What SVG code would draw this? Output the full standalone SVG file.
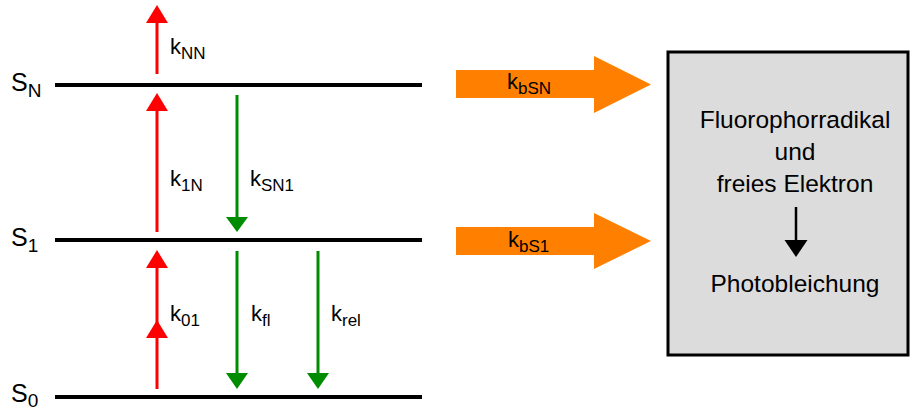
<svg xmlns="http://www.w3.org/2000/svg" width="912" height="410" viewBox="0 0 912 410">
<style>
text{font-family:"Liberation Sans",Arial,sans-serif;fill:#000}
.lvl{stroke:#000;stroke-width:4}
.s{font-size:25px}
.ss{font-size:19px}
.k{font-size:22px}
.ks{font-size:17px}
.red{stroke:#ff0000;stroke-width:3}
.redh{fill:#ff0000}
.grn{stroke:#008c00;stroke-width:3}
.grnh{fill:#008c00}
.org{fill:#ff8000}
.bt{font-size:24.5px;text-anchor:middle}
</style>
<rect width="912" height="410" fill="#fff"/>
<g id="levels">
<g id="SN"><line class="lvl" x1="55" y1="85" x2="422" y2="85"/><text class="s" x="11" y="91">S<tspan class="ss" dy="6">N</tspan></text></g>
<g id="S1"><line class="lvl" x1="55" y1="240" x2="422" y2="240"/><text class="s" x="11" y="246">S<tspan class="ss" dy="6">1</tspan></text></g>
<g id="S0"><line class="lvl" x1="55" y1="397" x2="422" y2="397"/><text class="s" x="11" y="402">S<tspan class="ss" dy="5">0</tspan></text></g>
</g>
<g id="connectors">
<g id="kNN"><line class="red" x1="157" y1="74" x2="157" y2="20"/><polygon class="redh" points="146,23 168,23 157,5"/><text class="k" x="170" y="54">k<tspan class="ks" dy="5">NN</tspan></text></g>
<g id="k1N"><line class="red" x1="157" y1="232" x2="157" y2="108"/><polygon class="redh" points="146,111 168,111 157,93"/><text class="k" x="170" y="186">k<tspan class="ks" dy="5">1N</tspan></text></g>
<g id="kSN1"><line class="grn" x1="237" y1="95" x2="237" y2="220"/><polygon class="grnh" points="226,217 248,217 237,232"/><text class="k" x="250" y="186">k<tspan class="ks" dy="5">SN1</tspan></text></g>
<g id="k01"><line class="red" x1="157" y1="389" x2="157" y2="266"/><polygon class="redh" points="146,268 168,268 157,250"/><polygon class="redh" points="146,338 168,338 157,320"/><text class="k" x="170" y="321">k<tspan class="ks" dy="5">01</tspan></text></g>
<g id="kfl"><line class="grn" x1="237" y1="251" x2="237" y2="376"/><polygon class="grnh" points="226,373 248,373 237,389"/><text class="k" x="251" y="321">k<tspan class="ks" dy="5">fl</tspan></text></g>
<g id="krel"><line class="grn" x1="318" y1="251" x2="318" y2="376"/><polygon class="grnh" points="307,373 329,373 318,389"/><text class="k" x="331" y="321">k<tspan class="ks" dy="5">rel</tspan></text></g>
<g id="kbSN"><polygon class="org" points="456,70 594,70 594,56 651,84.5 594,113 594,98 456,98"/><text class="k" x="507" y="89">k<tspan class="ks" dy="5">bSN</tspan></text></g>
<g id="kbS1"><polygon class="org" points="456,227 594,227 594,213 651,241 594,269 594,255 456,255"/><text class="k" x="508" y="247">k<tspan class="ks" dy="5">bS1</tspan></text></g>
</g>
<g id="box">
<rect x="668" y="52" width="240" height="303" fill="#dcdcdc" stroke="#000" stroke-width="3"/>
<text class="bt" x="795" y="128">Fluorophorradikal</text>
<text class="bt" x="795" y="160">und</text>
<text class="bt" x="795" y="192">freies Elektron</text>
<line x1="796" y1="207" x2="796" y2="243" stroke="#000" stroke-width="2.5"/>
<polygon points="784.5,240 807.5,240 796,257" fill="#000"/>
<text class="bt" x="795" y="292">Photobleichung</text>
</g>
</svg>
